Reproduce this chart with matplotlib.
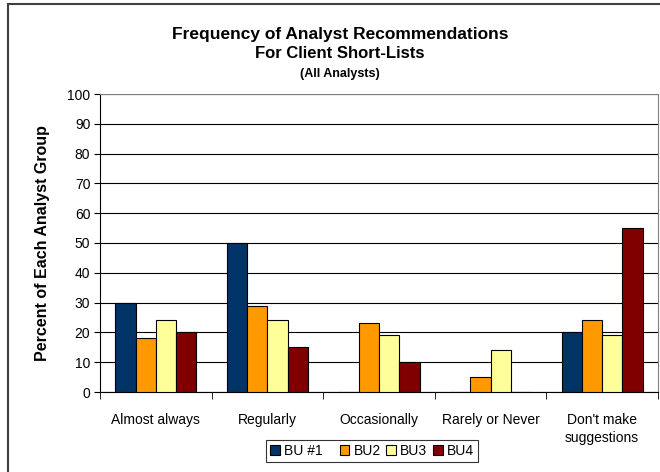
import numpy as np
import matplotlib.pyplot as plt
from matplotlib.patches import Rectangle

plt.rcParams['font.family'] = ['Liberation Sans', 'DejaVu Sans']

categories = ["Almost always", "Regularly", "Occasionally", "Rarely or Never", "Don't make\nsuggestions"]
series = ["BU #1", "BU2", "BU3", "BU4"]
bu1 = [30, 50, 0, 0, 20]
bu2 = [18, 29, 23, 5, 24]
bu3 = [24, 24, 19, 14, 19]
bu4 = [20, 15, 10, 0, 55]
colors = ["#003366", "#FF9900", "#FFFF99", "#800000"]

fig = plt.figure(figsize=(6.6, 4.72), dpi=100)
ax = fig.add_axes([100/660, 1 - 392/472, 558/660, 298/472])

x = np.arange(len(categories))
w = 1 / 5.5
bars = []
for i, (vals, name) in enumerate(zip([bu1, bu2, bu3, bu4], series)):
    b = ax.bar(x + (i - 1.5) * w, vals, w, color=colors[i], edgecolor="black",
               linewidth=0.8, zorder=3)
    bars.append(b)

ax.set_xlim(-0.5, len(categories) - 0.5)
ax.set_ylim(0, 100)
ax.set_yticks(range(0, 101, 10))
ax.yaxis.grid(True, color="black", linewidth=0.8, zorder=0)
ax.set_axisbelow(True)

ax.set_xticks(x)
ax.set_xticklabels(categories, fontsize=10, linespacing=1.4)
ax.tick_params(axis="x", length=0, pad=15)
ax.set_xticks(np.arange(-0.5, len(categories)), minor=True)
ax.tick_params(axis="x", which="minor", length=5, direction="out", color="black")
ax.tick_params(axis="y", labelsize=10, length=4, direction="out", pad=3)

for s in ["top", "right"]:
    ax.spines[s].set_color("#808080")
for s in ["left", "bottom"]:
    ax.spines[s].set_color("black")

ax.set_ylabel("Percent of Each Analyst Group", fontsize=11.5, fontweight="bold", labelpad=12)

cx = 340 / 660
fig.text(cx, 1 - 35/472, "Frequency of Analyst Recommendations",
         ha="center", va="center", fontsize=12.5, fontweight="bold")
fig.text(cx, 1 - 53/472, "For Client Short-Lists",
         ha="center", va="center", fontsize=12, fontweight="bold")
fig.text(cx, 1 - 74/472, "(All Analysts)",
         ha="center", va="center", fontsize=9, fontweight="bold")

# Excel leaves a wider gap after the first legend entry
labels = [series[0] + "\u00a0\u00a0\u00a0"] + series[1:]
leg = fig.legend(bars, labels, loc="center", bbox_to_anchor=(372/660, 1 - 451/472), ncol=4,
                 fontsize=10, frameon=True, fancybox=False, edgecolor="black",
                 handlelength=0.7, handleheight=0.7, handletextpad=0.3,
                 columnspacing=0.4, borderpad=0.3)
leg.get_frame().set_linewidth(0.8)

fig.patches.append(Rectangle((8/660, -0.1), 1.2, 1 - 4/472 + 0.1, transform=fig.transFigure,
                             fill=False, edgecolor="#404040", linewidth=1.5))

fig.savefig("out.png", dpi=100)
